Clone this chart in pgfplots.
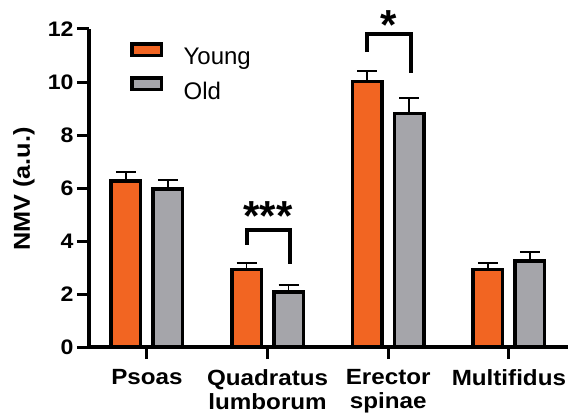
\documentclass[border=0pt]{standalone}
\usepackage{fontspec}
\setmainfont{Liberation Sans}[FakeStretch=1.1]
\newfontfamily\legfont{Liberation Sans}
\newfontfamily\starfont{Liberation Sans}
\usepackage{pgfplots}
\pgfplotsset{compat=1.18}
\definecolor{young}{HTML}{F26522}
\definecolor{old}{HTML}{A5A5AA}
\begin{document}
\begin{tikzpicture}
\path[use as bounding box] (-89pt,-71pt) rectangle (479pt,347pt);
\begin{axis}[
  at={(0,0)}, anchor=south west,
  scale only axis, width=479pt, height=318pt,
  xmin=-0.48, xmax=3.49, ymin=0, ymax=12,
  ybar,
  axis lines=left,
  axis line style={-, line width=3.5pt, black},
  clip=false,
  xtick={0,1,2,3},
  xticklabels={Psoas, Quadratus\\lumborum, Erector\\spinae, Multifidus},
  xticklabel style={align=center, font=\fontsize{22}{24}\selectfont\bfseries, yshift=-7pt},
  ytick={0,2,4,6,8,10,12},
  yticklabel style={font=\fontsize{21}{24}\selectfont\bfseries},
  /pgf/number format/assume math mode=true,
  tick align=outside, major tick length=12pt,
  tick style={line width=3pt, black},
  ylabel={NMV (a.u.)},
  ylabel style={at={(axis description cs:-0.136,0.497)}, anchor=center, font=\fontsize{23}{24}\selectfont\bfseries},
  legend image code/.code={\draw[#1, line width=3.5pt] (0pt,1.75pt) rectangle (29.5pt,13.25pt); \path (48pt,7pt);},
  legend style={draw=none, fill=none, at={(axis cs:-0.141,11.5)}, anchor=north west,
    font=\legfont\fontsize{24}{24}\selectfont, row sep=8pt, inner sep=0pt},
  legend cell align=left,
]
\addplot[bar width=29.5pt, bar shift=-21pt, fill=young, draw=black, line width=3.5pt,
  error bars/.cd, y dir=plus, y explicit,
  error bar style={line width=1.8pt, black},
  error mark options={rotate=90, line width=1.8pt, mark size=10pt, black}]
  coordinates {(0,6.27) +- (0,0.33) (1,2.93) +- (0,0.24) (2,10.01) +- (0,0.41) (3,2.93) +- (0,0.25)};
\addlegendentry{Young}
\addplot[bar width=29.5pt, bar shift=21pt, fill=old, draw=black, line width=3.5pt,
  error bars/.cd, y dir=plus, y explicit,
  error bar style={line width=1.8pt, black},
  error mark options={rotate=90, line width=1.8pt, mark size=10pt, black}]
  coordinates {(0,5.97) +- (0,0.33) (1,2.08) +- (0,0.26) (2,8.81) +- (0,0.59) (3,3.25) +- (0,0.33)};
\addlegendentry{Old}
\addplot[sharp plot, no marks, black, line width=3.5pt, line join=miter, forget plot]
  coordinates {(0.829,3.85) (0.829,4.415) (1.185,4.415) (1.185,3.13)};
\addplot[sharp plot, no marks, black, line width=3.5pt, line join=miter, forget plot]
  coordinates {(1.823,11.13) (1.823,11.81) (2.188,11.81) (2.188,10.34)};
\node[anchor=base, font=\starfont\fontsize{42}{42}\selectfont\bfseries] at (axis cs:1.003,4.38) {***};
\node[anchor=base, font=\starfont\fontsize{42}{42}\selectfont\bfseries] at (axis cs:2.005,11.6) {*};
\end{axis}
\end{tikzpicture}
\end{document}
